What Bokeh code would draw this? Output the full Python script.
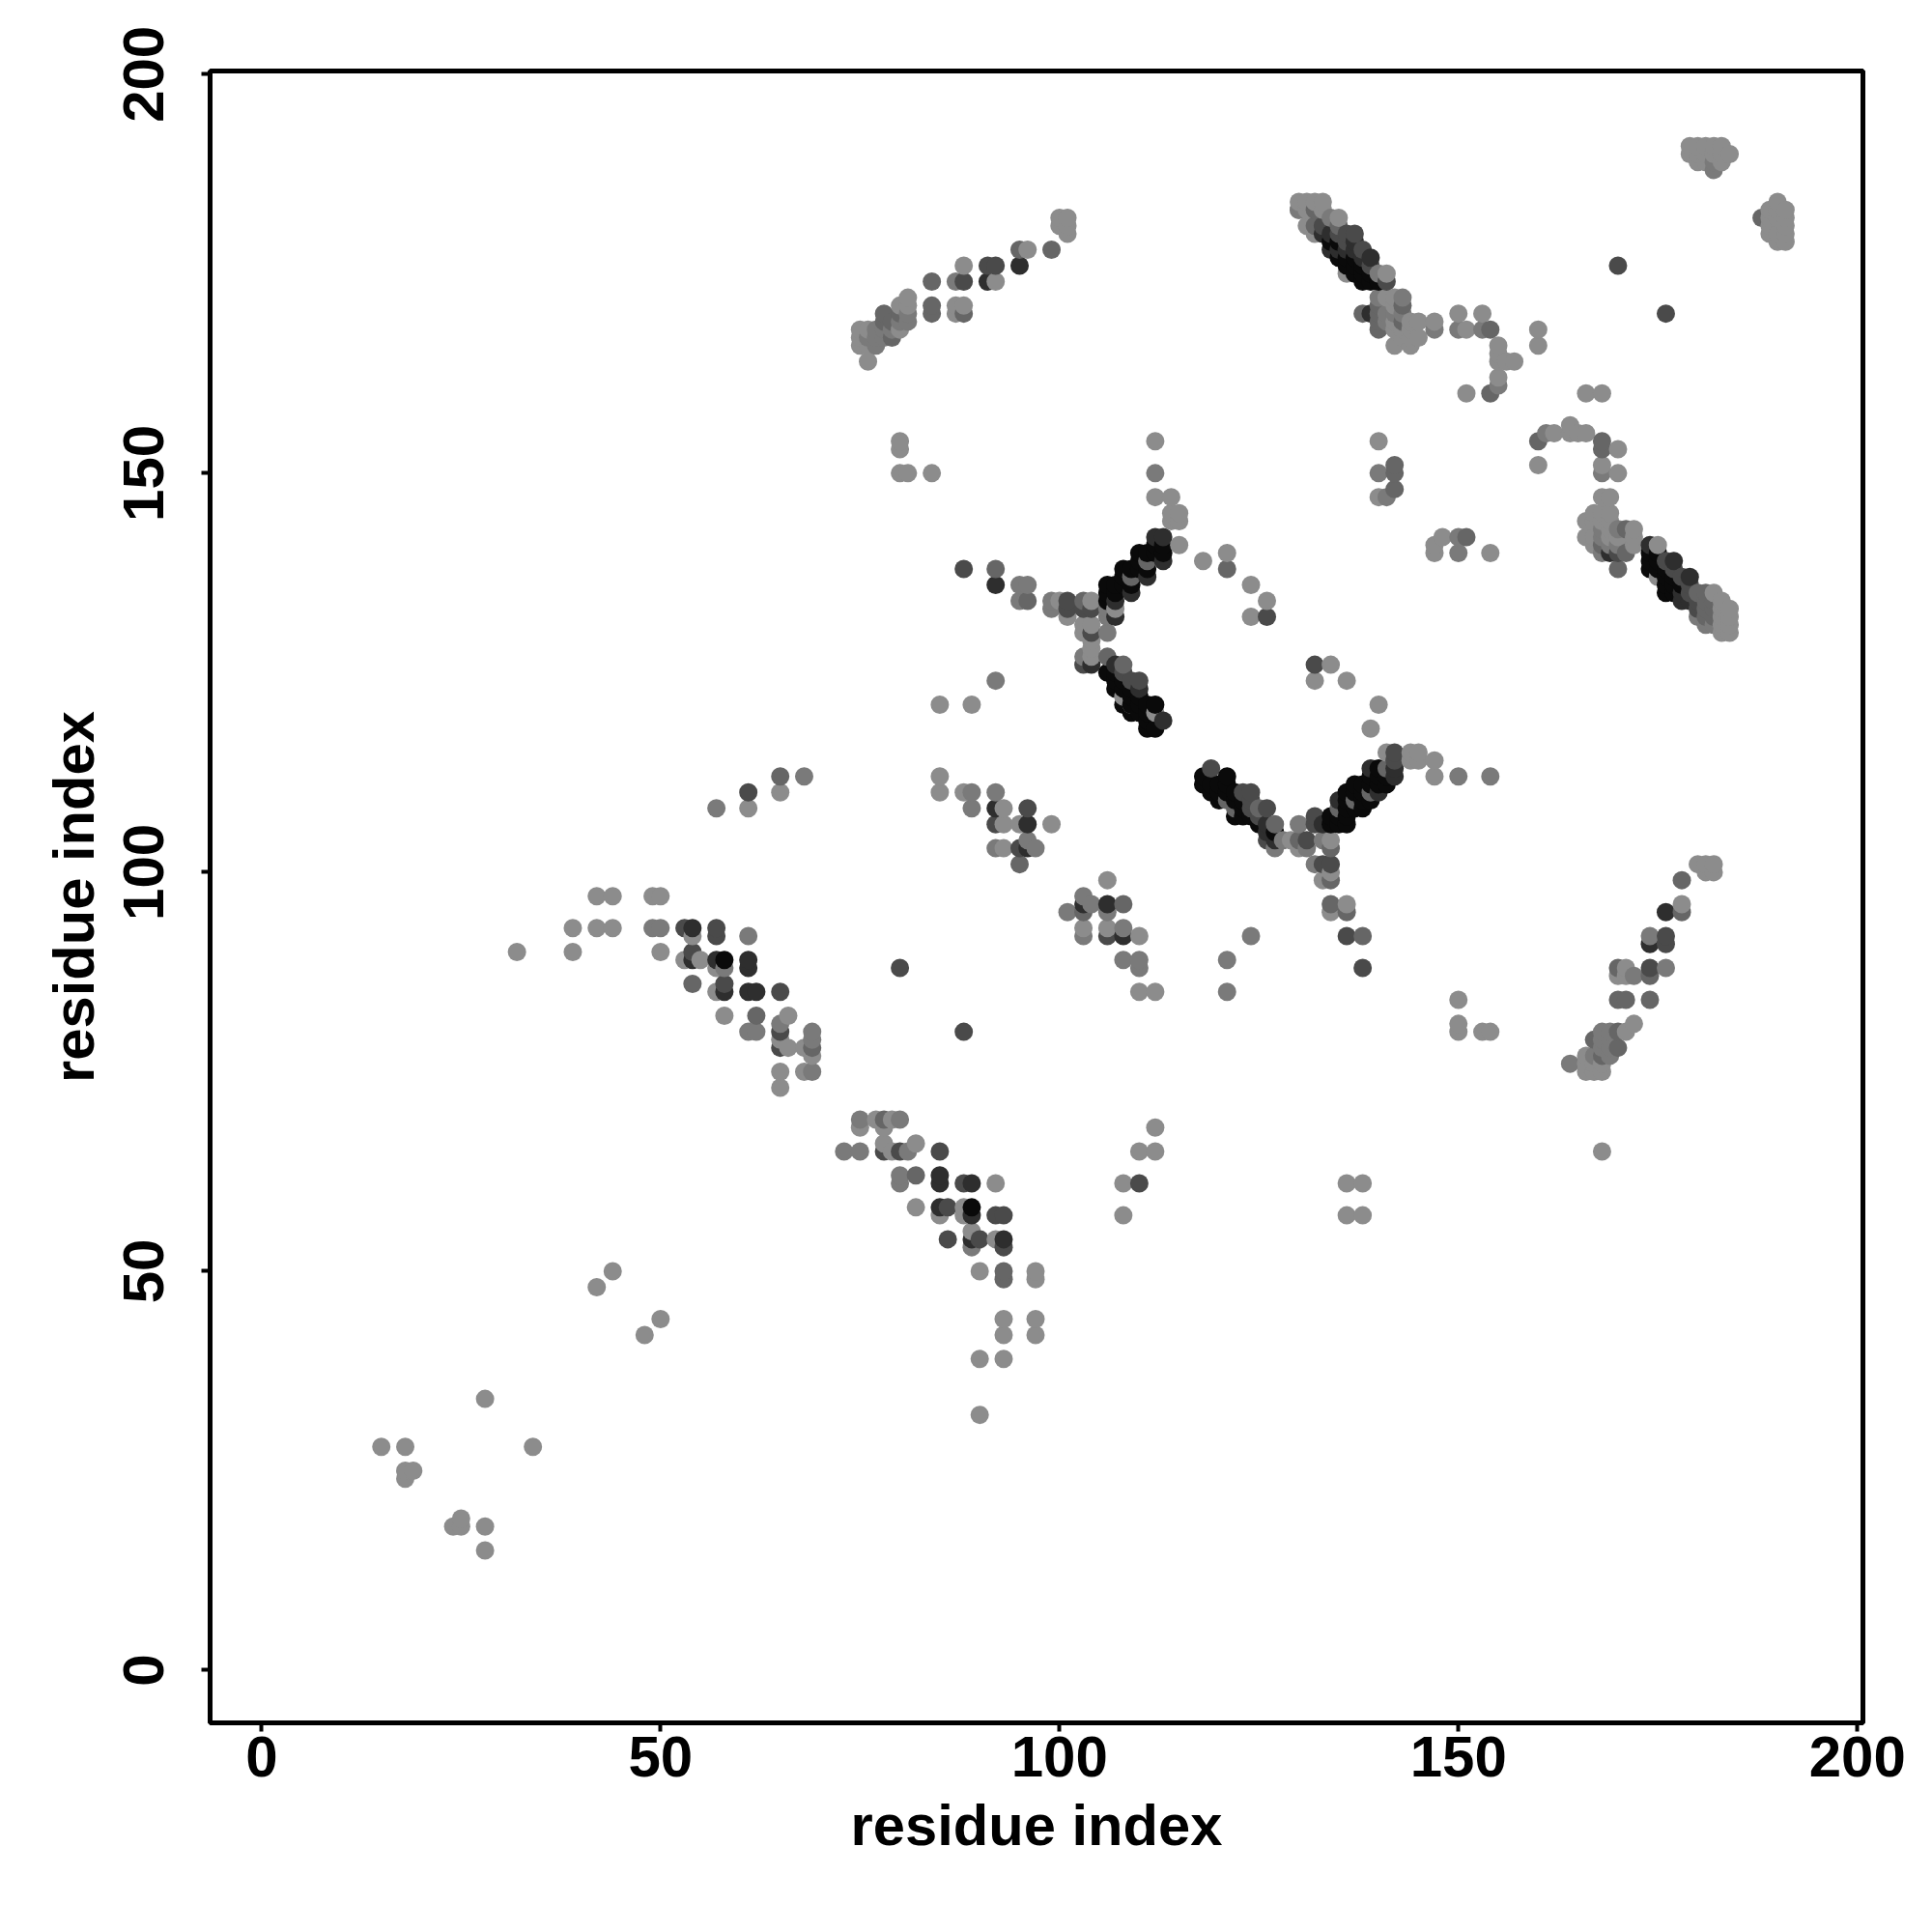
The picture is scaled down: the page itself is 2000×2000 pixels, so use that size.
from bokeh.plotting import figure, ColumnDataSource
from bokeh.embed import file_html
from bokeh.resources import INLINE
from bokeh.models import FixedTicker, Range1d

# contacts (residue i, residue j) grouped by grey level
light = [(28,34),(15,28),(18,28),(34,28),(18,25),(19,25),(18,24),(25,19),(24,18),(25,18),(28,18),(28,15),
 (42,48),(44,50),(48,42),(50,44),(32,90),(39,90),(39,93),(42,93),(44,93),(42,97),(44,97),(49,97),(50,97),(50,90),
 (93,44),(97,44),(93,42),(97,42),(90,39),(93,39),(90,32),(97,50),(97,49),(90,50),
 (77,69),(79,69),(75,68),(78,68),(78,66),(82,66),(79,65),(82,58),(85,57),(88,58),(88,57),(89,55),(92,54),(92,61),
 (54,92),(53,89),(55,89),(57,88),(57,85),(58,82),(66,82),(65,79),(66,78),(68,78),(69,77),(65,75),(68,75),(65,73),
 (65,110),(61,108),(85,112),(85,110),(88,110),(93,108),(93,106),(95,106),(99,106),(93,103),
 (106,99),(103,93),(106,93),(110,85),(112,85),(110,92),(108,57),(108,61),(110,65),(112,65),(112,68),
 (136,61),(138,61),(136,57),(138,57),(168,65),(150,84),(150,81),(150,80),(153,80),(154,80),
 (134,104),(133,99),(134,100),(136,96),(134,95),(129,104),(130,103),(141,115),(144,115),(145,115),(144,114),(145,114),
 (147,114),(147,112),(132,124),(136,124),(134,126),(140,121),(139,118),(85,121),(89,121),
 (107,133),(108,122),(109,121),(112,120),(104,134),(100,134),(104,131),(103,131),(103,130),(104,128),(104,127),(104,129),(101,132),
 (112,154),(112,147),(114,147),(115,145),(114,145),(115,144),(114,144),(115,141),
 (118,139),(121,140),(124,136),(126,134),(124,132),(140,154),(140,147),(148,142),(147,141),(147,140),(154,140),
 (76,164),(75,168),(75,167),(75,166),(76,168),(76,166),(80,171),(80,168),(81,172),(81,171),(87,171),(87,170),(88,171),(88,176),(92,174),(96,178),
 (100,182),(101,182),(100,181),(101,181),(101,180),(80,154),(80,153),(80,150),(81,150),(84,150),
 (130,184),(131,184),(132,184),(133,184),(130,183),(131,183),(133,183),(131,181),(132,180),(135,182),(136,175),(141,175),
 (141,172),(142,172),(142,171),(144,169),(145,169),(147,169),(142,166),(144,166),(145,167),(144,167),(143,167),(142,168),(143,168),(144,168),(142,169),
 (150,170),(153,170),(151,168),(155,166),(155,165),(155,164),(156,164),(157,164),(155,162),(151,160),(160,168),(160,166),(166,160),(168,160),
 (179,191),(180,191),(181,191),(182,191),(183,191),(179,190),(180,190),(181,190),(182,190),(183,190),(184,190),(180,189),(181,189),(183,189),
 (190,184),(189,183),(190,183),(191,183),(189,182),(190,182),(191,182),(189,181),(191,181),(189,180),(190,180),(191,180),(190,179),(191,179),
 (160,151),(162,155),(164,156),(164,155),(165,155),(166,155),(170,153),(168,151),(170,150),(168,147),(169,147),(167,145),(169,145),(166,144),(167,144),(169,144),
 (166,142),(167,142),(172,143),(172,142),(172,141),(175,141),(175,137),(182,135),(183,133),(184,133),(183,132),(184,132),(183,131),(184,131),(183,130),(184,130),
 (180,101),(181,101),(182,101),(181,100),(182,100),(178,96),(171,88),(170,87),(171,87),(172,81),(171,80),(166,77),(166,76),(167,76),(168,76),(166,75),(167,75),(168,75),
 (169,143),(168,144),(168,145),(170,142),(169,142),(167,141),(183,134)]

mid = [(75,69),(80,69),(73,65),(75,65),(81,65),(80,62),(80,61),(89,53),(49,93),(50,93),(61,92),(58,88),(65,81),(61,80),(62,80),(69,80),(69,79),(69,75),
 (57,108),(68,112),(89,110),(92,110),(89,108),(92,103),(97,103),(96,104),(101,95),(103,97),(104,96),(106,95),(108,93),(103,92),(108,89),(110,89),(110,88),(124,92),(121,89),(121,85),
 (128,104),(130,106),(127,103),(131,103),(150,112),(154,112),(132,101),(133,104),
 (92,124),(112,150),(140,150),(141,147),(150,142),(150,140),(106,130),(106,133),(106,132),(103,127),(99,134),(99,133),(96,136),(95,136),(95,134),
 (168,150),(77,167),(77,166),(81,170),(87,174),(130,183),(134,182),(140,175),(140,172),(143,172),(147,168),(150,168),(153,168),(155,161),(161,155),
 (182,189),(182,188),(168,143),(168,140),(180,132),(181,131),(182,131),(176,88),(172,87),(168,80),(168,79),(169,79),(168,78),(169,78),(167,77),(164,76),(174,92),
 (77,168),(78,168),(79,168),(76,167),(78,167),(80,169),(81,169),(141,170),(142,170),(141,169),(143,170),(170,143),(170,141),(169,141),(168,142),(169,80),(169,77)]

grey = [(78,69),(82,62),(93,50),(93,49),(54,86),(62,82),(69,78),(65,112),(95,101),(138,92),(134,96),(136,95),(134,103),(134,99),(130,104),(127,106),(125,108),(108,96),(106,127),(108,126),(103,95),
 (121,138),(142,151),(142,150),(142,148),(151,142),(88,170),(78,170),(79,167),(79,169),(78,169),(80,170),(84,174),(84,171),(84,170),(95,178),(99,178),(138,170),(132,183),(132,181),(135,181),
 (140,171),(140,168),(143,171),(143,169),(154,168),(154,160),(160,154),(168,154),(168,153),(188,182),(171,143),(168,141),(171,140),(170,138),(180,135),(181,135),(182,132),(181,134),(182,134),
 (178,99),(178,95),(170,88),(174,87),(170,84),(171,84),(174,84),(170,80),(167,79),(170,78),(168,77),(96,134),(92,138),(103,134),(140,170),(140,169),(122,108),(121,109),(135,108),(137,109),(139,110),(141,113),(109,137),(111,139),
 (181,133),(181,132),(182,133)]

dark = [(53,93),(57,93),(57,92),(54,90),(85,65),(80,65),(86,58),(86,54),(90,54),(93,57),(92,57),(88,61),(93,53),(65,85),(65,80),(58,86),(78,65),(65,78),(110,61),
 (80,88),(88,80),(61,110),(96,108),(95,103),(92,106),(101,134),(101,133),(104,133),(104,130),(103,133),(138,88),(136,92),(126,104),(131,104),(133,101),(134,101),(106,92),
 (132,107),(132,106),(142,114),(142,115),(119,113),(123,110),(124,110),(126,108),(124,109),(88,138),(126,132),(132,126),(109,124),(110,124),(103,126),(170,176),(176,170),
 (88,174),(91,176),(92,176),(133,181),(136,179),(141,174),(176,139),(174,88),(176,92),(176,91),(170,140),(135,180),(136,180),(137,180),(138,178),(139,176),(177,138),(178,137),(179,136),(180,134),(179,135),(180,133),
 (124,108),(125,107),(108,125)]

darker = [(54,93),(54,89),(57,89),(61,89),(61,88),(58,85),(61,85),(62,85),(85,62),(85,61),(89,61),(85,58),(89,57),(89,54),(93,54),(92,108),(96,106),(96,103),(103,96),(106,96),(108,92),
 (127,104),(133,106),(135,109),(139,113),(140,110),(142,112),(92,136),(104,126),(107,132),(112,142),(113,142),(113,139),(111,137),(109,135),(107,134),(107,126),(113,119),(110,123),
 (91,174),(95,176),(134,180),(137,179),(134,178),(139,177),(139,170),(169,140),(174,141),(177,139),(179,137),(178,134),(176,95),(174,91),(133,180),(136,178),(137,178),(138,177),(142,113),(135,178),
 (126,106),(126,105),(178,135),(179,134)]

black = [(58,89),(89,58),(118,112),(118,111),(119,111),(121,112),(121,111),(120,109),(122,107),(125,106),(123,107),(134,107),(134,106),(135,106),(136,109),(136,107),(136,106),
 (137,111),(137,110),(138,111),(138,108),(139,109),(140,113),(141,112),(141,111),(110,140),(111,140),(112,141),(113,140),(108,138),(109,138),(106,136),(107,136),(106,134),
 (106,125),(107,125),(107,124),(107,123),(108,123),(108,121),(109,122),(109,120),(110,121),(110,120),(111,121),(112,121),(111,119),(111,118),(112,118),
 (136,176),(137,177),(138,176),(138,174),(139,174),(140,174),(174,140),(174,139),(174,138),(175,138),(176,137),(176,136),(177,136),(178,136),
 (108,136),(109,136),(107,135),(106,135),(108,137),(110,138),(111,138),(110,139),(112,140),(113,141),(119,110),(120,110),(120,111),(121,110),(122,110),(122,109),(123,109),(123,108),(124,107),(127,105),
 (135,107),(136,108),(136,110),(137,108),(138,110),(138,109),(139,111),(139,112),(140,111),(140,112),(134,179),(135,179),(135,177),(136,177),(137,176),(137,175),(138,175),(139,175),
 (175,140),(175,139),(176,138),(177,137),(177,135),(176,135),(108,124),(109,123),(110,122),(111,120),(109,121)]

levels = [(light, "#8c8c8c"), (mid, "#7a7a7a"), (grey, "#666666"), (dark, "#4a4a4a"), (darker, "#2e2e2e"), (black, "#0a0a0a")]
tick_values = [0, 50, 100, 150, 200]
axis_title = "residue index"

# drawn in order of residue i, then j, as in the source picture; a repeated pair keeps its darkest grey
rows = sorted(((pt[0], pt[1], col) for pts, col in levels for pt in pts),
              key=lambda r: (r[0], r[1], -int(r[2][1:3], 16)))
src = ColumnDataSource(dict(x=[r[0] for r in rows], y=[r[1] for r in rows], c=[r[2] for r in rows]))

p = figure(width=1978, height=1975, output_backend="svg", toolbar_location=None,
           x_range=Range1d(-6.46, 200.7), y_range=Range1d(-6.6, 200.4),
           min_border_left=217, min_border_right=50, min_border_top=73, min_border_bottom=192)
p.frame_width = 1711
p.frame_height = 1710
p.scatter("x", "y", source=src, size=19, fill_color="c", line_color=None, marker="circle")

p.grid.visible = False
p.background_fill_color = "white"
p.outline_line_color = "black"
p.outline_line_width = 5
p.outline_line_alpha = 1

for ax in (p.xaxis[0], p.yaxis[0]):
    ax.ticker = FixedTicker(ticks=tick_values)
    ax.axis_label = axis_title
    ax.axis_label_text_font = "Liberation Sans"
    ax.axis_label_text_font_style = "bold"
    ax.axis_label_text_font_size = "59.7px"
    ax.axis_label_text_color = "black"
    ax.major_label_text_font = "Liberation Sans"
    ax.major_label_text_font_style = "bold"
    ax.major_label_text_font_size = "60px"
    ax.major_label_text_color = "black"
    ax.axis_line_color = None
    ax.major_tick_line_color = "black"
    ax.major_tick_line_width = 4
    ax.major_tick_in = 0
    ax.major_tick_out = 9
    ax.minor_tick_line_color = None
p.xaxis[0].major_label_standoff = 5
p.xaxis[0].axis_label_standoff = 14
p.yaxis[0].major_label_orientation = "vertical"
p.yaxis[0].major_label_standoff = 39
p.yaxis[0].axis_label_standoff = 16

open("out.html", "w").write(file_html(p, INLINE))
